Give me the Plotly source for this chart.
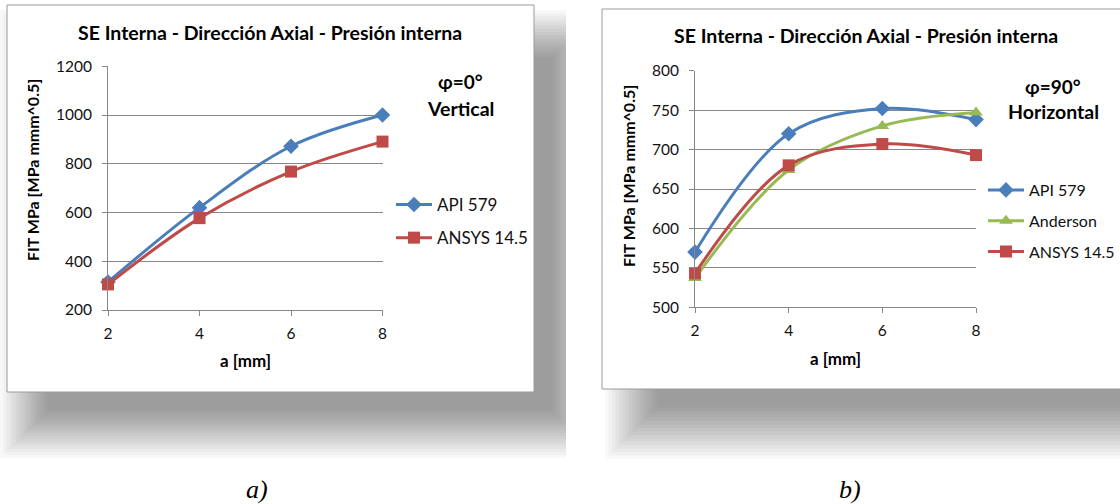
import plotly.graph_objects as go

W, H = 1120, 504

# ---------------- data ----------------
a_mm = [2, 4, 6, 8]
# chart a) phi = 0 deg, vertical
api579_v = [315, 620, 872, 1000]
ansys_v = [305, 577, 768, 891]
# chart b) phi = 90 deg, horizontal
api579_h = [570, 720, 752, 738]
anderson_h = [537, 674, 730, 747]
ansys_h = [543, 680, 707, 693]

title_txt = "SE Interna - Dirección Axial - Presión interna"
ytitle_txt = "FIT MPa [MPa mmm^0.5]"
xtitle_txt = "a [mm]"

BLUE = "#4A7EBB"
RED = "#BE4B48"
GREEN = "#98B954"
FONT = "Lato"
GRID = "#878787"


def px(x):
    return x / W


def py(y):
    return 1 - y / H


fig = go.Figure()

# ---------------- traces ----------------
def add(x, y, name, color, symbol, msize, xa, ya, legend):
    fig.add_trace(go.Scatter(
        x=x, y=y, name=name, mode="lines+markers",
        line=dict(color=color, width=3, shape="spline", smoothing=1),
        marker=dict(symbol=symbol, size=msize, color=color),
        xaxis=xa, yaxis=ya, legend=legend, legendgroup=name + legend,
        cliponaxis=False,
    ))


add(a_mm, api579_v, "API 579", BLUE, "diamond", 12, "x", "y", "legend")
add(a_mm, ansys_v, "ANSYS 14.5", RED, "square", 12, "x", "y", "legend")
add(a_mm, api579_h, "API 579", BLUE, "diamond", 12, "x2", "y2", "legend2")
add(a_mm, anderson_h, "Anderson", GREEN, "triangle-up", 12, "x2", "y2", "legend2")
add(a_mm, ansys_h, "ANSYS 14.5", RED, "square", 12, "x2", "y2", "legend2")

# ---------------- shadows and boxes ----------------
shapes = []


def shadow(cx0, cy0, cx1, cy1, clip0, clip1, n=16, spread=50, alpha=0.028):
    for k in range(n):
        e = spread * (n - k) / n
        x0 = max(cx0 - e, clip0)
        x1 = min(cx1 + e, clip1)
        shapes.append(dict(type="rect", xref="paper", yref="paper", layer="below",
                           x0=px(x0), x1=px(x1), y0=py(cy1 + e), y1=py(cy0 - e),
                           fillcolor="rgba(0,0,0,%g)" % alpha, line=dict(width=0)))


shadow(50, 60, 550, 408, 0, 566)
shadow(660, 370, 1200, 404, 566, 1120, spread=55)

for (x0, y0, x1, y1) in [(7, 5, 534, 392), (602, 9, 1126, 389)]:
    shapes.append(dict(type="rect", xref="paper", yref="paper", layer="below",
                       x0=px(x0), x1=px(x1), y0=py(y1), y1=py(y0),
                       fillcolor="white", line=dict(color="#9a9a9a", width=1)))

# ---------------- annotations ----------------
ann = []


def text(x, y, s, size, bold=False, angle=0, family=FONT, italic=False, color="#000"):
    if bold:
        s = "<b>" + s + "</b>"
    if italic:
        s = "<i>" + s + "</i>"
    ann.append(dict(x=px(x), y=py(y), xref="paper", yref="paper", text=s,
                    showarrow=False, textangle=angle, xanchor="center", yanchor="middle",
                    font=dict(family=family, size=size, color=color)))


text(270, 33, title_txt, 19.5, bold=True)
text(866, 36, title_txt, 19.5, bold=True)
text(32, 170, ytitle_txt, 16, bold=True, angle=-90)
text(628, 176, ytitle_txt, 16, bold=True, angle=-90)
text(245, 360, xtitle_txt, 17, bold=True)
text(835, 358, xtitle_txt, 17, bold=True)
text(460, 82, "φ=0°", 19, bold=True)
text(460, 108, "Vertical", 19.5, bold=True)
text(1053, 86, "φ=90°", 19, bold=True)
text(1053, 111, "Horizontal", 19.5, bold=True)
text(257, 489, "a)", 26, italic=True, family="Liberation Serif")
text(850, 489, "b)", 26, italic=True, family="Liberation Serif")

# ---------------- axes ----------------
axis_common = dict(showline=True, linecolor=GRID, linewidth=1, ticks="outside",
                   ticklen=5, tickcolor=GRID, tickfont=dict(family=FONT, size=15.5, color="#111"),
                   zeroline=False, fixedrange=True)

fig.update_layout(
    width=W, height=H,
    margin=dict(l=0, r=0, t=0, b=0, autoexpand=False),
    paper_bgcolor="white", plot_bgcolor="rgba(0,0,0,0)",
    shapes=shapes, annotations=ann,
    xaxis=dict(domain=[px(108), px(382.5)], range=[2, 8], tickvals=a_mm,
               showgrid=False, anchor="y", ticklabelstandoff=4, **axis_common),
    yaxis=dict(domain=[py(310), py(66.3)], range=[200, 1200], dtick=200,
               showgrid=True, gridcolor=GRID, gridwidth=1, anchor="x",
               ticklabelstandoff=7, **axis_common),
    xaxis2=dict(domain=[px(695), px(976)], range=[2, 8], tickvals=a_mm,
                showgrid=False, anchor="y2", ticklabelstandoff=4, **axis_common),
    yaxis2=dict(domain=[py(307.3), py(70.7)], range=[500, 800], dtick=50,
                showgrid=True, gridcolor=GRID, gridwidth=1, anchor="x2",
                ticklabelstandoff=7, **axis_common),
    legend=dict(x=px(391), y=py(187), xanchor="left", yanchor="top",
                bgcolor="rgba(0,0,0,0)", tracegroupgap=8, itemwidth=36,
                font=dict(family=FONT, size=17, color="#111")),
    legend2=dict(x=px(983), y=py(173), xanchor="left", yanchor="top",
                 bgcolor="rgba(0,0,0,0)", tracegroupgap=7, itemwidth=36,
                 font=dict(family=FONT, size=16, color="#111")),
    showlegend=True,
)

fig.write_html("out.html", config={"displayModeBar": False},
               post_script="document.body.style.margin='0';document.body.style.overflow='hidden';")
